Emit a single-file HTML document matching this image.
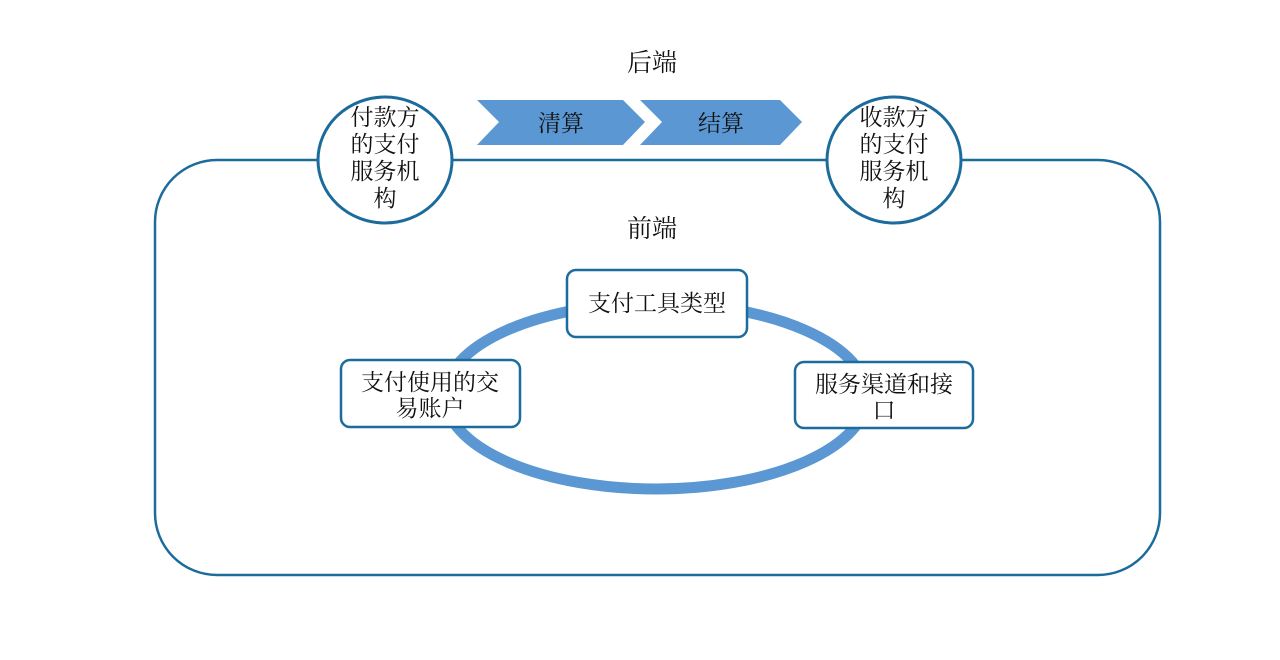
<!DOCTYPE html>
<html><head><meta charset="utf-8"><style>
html,body{margin:0;padding:0;background:#fff;width:1280px;height:660px;overflow:hidden}
text{font-family:"Liberation Serif","Noto Serif CJK SC",serif;fill:#111}
</style></head><body>
<svg width="1280" height="660" viewBox="0 0 1280 660" xmlns="http://www.w3.org/2000/svg">
<rect x="155" y="160" width="1005" height="415" rx="62" fill="none" stroke="#1b6c9c" stroke-width="2.5"/>
<text x="652" y="71" font-size="25" text-anchor="middle">后端</text>
<text x="652" y="237" font-size="25" text-anchor="middle">前端</text>
<polygon points="477,100 623,100 645,122 623,145 477,145 499,122" fill="#5b97d2"/>
<polygon points="640,100 780,100 802,122 780,145 640,145 662,122" fill="#5b97d2"/>
<text x="561" y="131" font-size="23" text-anchor="middle">清算</text>
<text x="721" y="131" font-size="23" text-anchor="middle">结算</text>
<ellipse cx="385" cy="160" rx="67" ry="63" fill="#fff" stroke="#1b6c9c" stroke-width="3"/>
<ellipse cx="894" cy="160" rx="67" ry="63" fill="#fff" stroke="#1b6c9c" stroke-width="3"/>
<g font-size="23" text-anchor="middle">
<text x="385" y="125">付款方</text><text x="385" y="152">的支付</text><text x="385" y="179">服务机</text><text x="385" y="206">构</text>
<text x="894" y="125">收款方</text><text x="894" y="152">的支付</text><text x="894" y="179">服务机</text><text x="894" y="206">构</text>
</g>
<ellipse cx="656" cy="396" rx="211" ry="93" fill="none" stroke="#5b97d2" stroke-width="11"/>
<rect x="567" y="270" width="180" height="67" rx="9" fill="#fff" stroke="#1b6c9c" stroke-width="2.5"/>
<rect x="341" y="360" width="179" height="67" rx="9" fill="#fff" stroke="#1b6c9c" stroke-width="2.5"/>
<rect x="795" y="362" width="178" height="66" rx="9" fill="#fff" stroke="#1b6c9c" stroke-width="2.5"/>
<g font-size="23" text-anchor="middle">
<text x="657" y="311">支付工具类型</text>
<text x="430" y="390">支付使用的交</text><text x="430" y="416">易账户</text>
<text x="884" y="392">服务渠道和接</text><text x="884" y="418">口</text>
</g>
</svg>
</body></html>
